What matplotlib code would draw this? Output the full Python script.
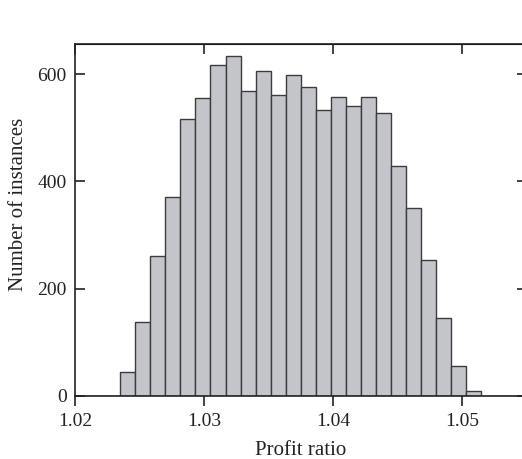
import matplotlib
matplotlib.use("Agg")
import matplotlib.pyplot as plt
import numpy as np

# histogram of profit ratios, 30 bins between 1.02 and 1.055
bin_lo = 1.02
bin_hi = 1.055
n_bins = 30
counts = [0, 0, 0, 45, 137, 260, 371, 517, 556, 616, 634, 569, 605, 561,
          598, 575, 533, 558, 541, 557, 528, 428, 350, 253, 145, 55, 9,
          0, 0, 0]
x_ticks = [1.02, 1.03, 1.04, 1.05]
x_tick_labels = ["1.02", "1.03", "1.04", "1.05"]
y_ticks = [0, 200, 400, 600]

edges = np.linspace(bin_lo, bin_hi, n_bins + 1)
widths = np.diff(edges)

plt.rcParams['font.family'] = ['Liberation Serif', 'DejaVu Serif']

fig = plt.figure(figsize=(5.22, 4.59), dpi=100)
W, H = 522, 459
# right edge of axes sits just past the picture edge
ax = fig.add_axes([75 / W, 1 - 396 / H, (526.5 - 75) / W, (396 - 44) / H])

ax.bar(edges[:-1], counts, width=widths, align='edge',
       color='#c4c5ca', edgecolor='#3c3c3c', linewidth=1.0)

ax.set_xlim(bin_lo, bin_hi)
ax.set_ylim(0, 656)
ax.set_xticks(x_ticks)
ax.set_xticklabels(x_tick_labels)
ax.set_yticks(y_ticks)

for s in ax.spines.values():
    s.set_linewidth(1.2)
    s.set_color('#222222')

ax.tick_params(axis='x', which='both', direction='out', length=7, width=1.2,
               labelsize=14, top=False, pad=5, colors='#222222')
ax.tick_params(axis='y', which='both', direction='in', length=7, width=1.2,
               labelsize=14, right=True, pad=6, colors='#222222')

# top ticks point inward
ax2 = ax.secondary_xaxis('top')
ax2.set_xticks(x_ticks)
ax2.tick_params(direction='in', length=7, width=1.2, labeltop=False,
                colors='#222222')

ax.set_xlabel('Profit ratio', fontsize=15, labelpad=8, color='#222222')
ax.set_ylabel('Number of instances', fontsize=15, color='#222222')
ax.yaxis.set_label_coords(-0.105, 0.545)

fig.savefig('out.png', dpi=100)
